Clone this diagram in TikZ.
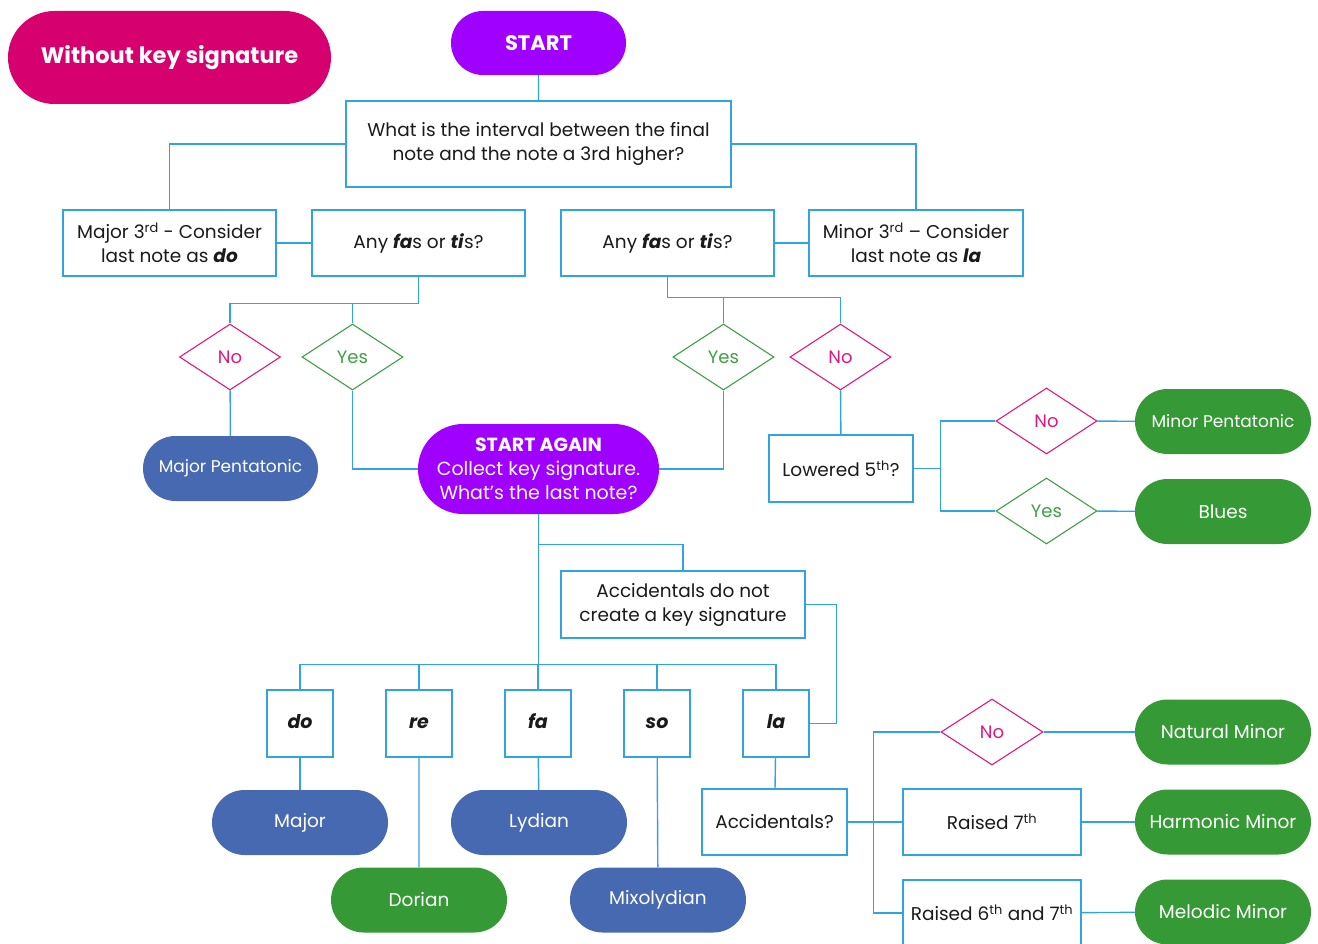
\documentclass[tikz,border=0pt]{standalone}
\usepackage{fontspec}
\setmainfont{Poppins}
\usetikzlibrary{
  positioning,
  shapes.geometric,
  shapes.misc
}
\definecolor{flowInk}{HTML}{1A1A1A}
\definecolor{flowLine}{HTML}{2FA4E0}
\definecolor{flowMagenta}{HTML}{D6006E}
\definecolor{flowPurple}{HTML}{A000FF}
\definecolor{flowBlue}{HTML}{4769B2}
\definecolor{flowGreen}{HTML}{359A35}
\definecolor{flowNo}{HTML}{E0197D}
\definecolor{flowYes}{HTML}{3FA045}
\tikzset{
  every node/.style={font=\fontsize{18.5}{24}\selectfont, text=flowInk},
  box/.style={
    draw=flowLine,
    line width=1.4pt,
    fill=white,
    align=center,
    inner sep=0pt
  },
  pill/.style={
    rounded rectangle,
    inner sep=0pt,
    text=white,
    align=center,
    minimum width=176pt,
    minimum height=65pt
  },
  bluepill/.style={pill, fill=flowBlue},
  greenpill/.style={pill, fill=flowGreen},
  purplepill/.style={pill, fill=flowPurple},
  choice/.style={
    diamond,
    inner sep=0pt,
    minimum width=101pt,
    minimum height=66pt,
    line width=1.1pt,
    fill=white,
    font=\fontsize{18}{22}\selectfont
  },
  nochoice/.style={choice, draw=flowNo, text=flowNo},
  yeschoice/.style={choice, draw=flowYes, text=flowYes},
  solfa/.style={
    box,
    minimum width=66pt,
    minimum height=67pt,
    text height=14pt,
    text depth=4pt,
    font=\fontsize{19}{24}\selectfont\bfseries\itshape
  },
  link/.style={draw=flowLine, line width=1.4pt}
}

\begin{document}
\begin{tikzpicture}[x=1pt,y=-1pt]
  \useasboundingbox (0,0) rectangle (1318,944);

  \node[pill, fill=flowMagenta, minimum width=323pt, minimum height=93pt,
    font=\fontsize{22.5}{26}\selectfont\bfseries] (title) at (169.5,57.5) {Without key signature};
  \node[purplepill, minimum width=175pt, minimum height=64pt,
    font=\fontsize{21}{26}\selectfont\bfseries] (start) at (538.5,43) {START};
  \node[box, minimum width=385pt, minimum height=86pt] (interval) at (538.5,144)
    {What is the interval between the final\\note and the note a 3rd higher?};

  \node[box, minimum width=213pt, minimum height=66pt] (major3) at (169.5,243)
    {Major 3\textsuperscript{rd} - Consider\\last note as \textbf{\textit{do}}};
  \node[box, minimum width=213pt, minimum height=66pt] (fasA) at (418.5,243)
    {Any \textbf{\textit{fa}}s or \textbf{\textit{ti}}s?};
  \node[box, minimum width=213pt, minimum height=66pt] (fasB) at (667.5,243)
    {Any \textbf{\textit{fa}}s or \textbf{\textit{ti}}s?};
  \node[box, minimum width=214pt, minimum height=66pt] (minor3) at (916,243)
    {Minor 3\textsuperscript{rd} -- Consider\\last note as \textbf{\textit{la}}};

  \node[nochoice] (noA) at (230,357) {No};
  \node[yeschoice] (yesA) at (352.5,357) {Yes};
  \node[yeschoice] (yesB) at (723.5,357) {Yes};
  \node[nochoice] (noB) at (840.5,357) {No};

  \node[bluepill, minimum width=175pt, font=\fontsize{17}{20}\selectfont] (majpent) at (230.5,468.5) {Major Pentatonic};
  \node[purplepill, minimum width=241pt, minimum height=90pt,
    font=\fontsize{19}{24}\selectfont] (again) at (538.5,469)
    {\textbf{START AGAIN}\\Collect key signature.\\What's the last note?};
  \node[box, minimum width=144pt, minimum height=67pt] (lowered) at (841,468.5)
    {Lowered 5\textsuperscript{th}?};

  \node[nochoice] (noC) at (1046.5,421) {No};
  \node[yeschoice] (yesC) at (1046.5,511) {Yes};
  \node[greenpill, font=\fontsize{17}{20}\selectfont] (minpent) at (1223,421.5) {Minor Pentatonic};
  \node[greenpill] (blues) at (1223,511.5) {Blues};

  \node[box, minimum width=244pt, minimum height=67pt] (accnot) at (683,604.5)
    {Accidentals do not\\create a key signature};

  \foreach \name/\x in {do/300,re/419,fa/538,so/657,la/776}
    \node[solfa] (\name) at (\x,723.5) {\name};

  \node[bluepill] (major) at (300,822.5) {Major};
  \node[greenpill] (dorian) at (419,900) {Dorian};
  \node[bluepill] (lydian) at (539,822.5) {Lydian};
  \node[bluepill] (mixo) at (658,900) {Mixolydian};

  \node[box, minimum width=145pt, minimum height=66pt] (acc) at (774.5,822) {Accidentals?};
  \node[nochoice, minimum width=102pt] (noD) at (992,732) {No};
  \node[box, minimum width=178pt, minimum height=66pt] (raised7) at (992,822)
    {Raised 7\textsuperscript{th}};
  \node[box, minimum width=178pt, minimum height=66pt] (raised67) at (992,913)
    {Raised 6\textsuperscript{th} and 7\textsuperscript{th}};
  \node[greenpill] (natmin) at (1223,732) {Natural Minor};
  \node[greenpill] (harmin) at (1223,822) {Harmonic Minor};
  \node[greenpill] (melmin) at (1223,912) {Melodic Minor};

  \draw[link] (start) -- (interval);
  \draw[link] (interval.west) -| (major3.north);
  \draw[link] (interval.east) -| (minor3.north);
  \draw[link] (major3) -- (fasA);
  \draw[link] (fasB) -- (minor3);

  \draw[link] (fasA.south) -- ++(0,27) coordinate (splitA) -| (noA.north);
  \draw[link] (yesA.north) -- (yesA.north |- splitA);
  \draw[link] (noA) -- (majpent);
  \draw[link] (yesA.south) |- (again.west);

  \draw[link] (fasB.south) -- ++(0,21) coordinate (splitB) -| (noB.north);
  \draw[link] (yesB.north) -- (yesB.north |- splitB);
  \draw[link] (yesB.south) |- (again.east);
  \draw[link] (noB) -- (lowered);

  \draw[link] (lowered.east) -- ++(27,0) coordinate (splitC);
  \draw[link] (noC.west) -| (splitC) |- (yesC.west);
  \draw[link] (noC) -- (minpent);
  \draw[link] (yesC) -- (blues);

  \draw[link] (again.south) -- ++(0,30) coordinate (splitD) -| (accnot.north);
  \draw[link] (splitD) -- ++(0,120) coordinate (splitE);
  \draw[link] (do.north) -- (do.north |- splitE) -- (la.north |- splitE) -- (la.north);
  \foreach \name in {re,fa,so}
    \draw[link] (\name.north) -- (\name.north |- splitE);
  \draw[link] (accnot.east) -- ++(31,0) |- (la.east);

  \draw[link] (do) -- (major);
  \draw[link] (re) -- (dorian);
  \draw[link] (fa) -- (lydian);
  \draw[link] (so) -- (mixo);
  \draw[link] (la) -- (acc);

  \draw[link] (acc.east) -- ++(26,0) coordinate (splitF);
  \draw[link] (noD.west) -| (splitF) |- (raised67.west);
  \draw[link] (splitF) -- (raised7.west);
  \draw[link] (noD) -- (natmin);
  \draw[link] (raised7) -- (harmin);
  \draw[link] (raised67) -- (melmin);
\end{tikzpicture}
\end{document}
